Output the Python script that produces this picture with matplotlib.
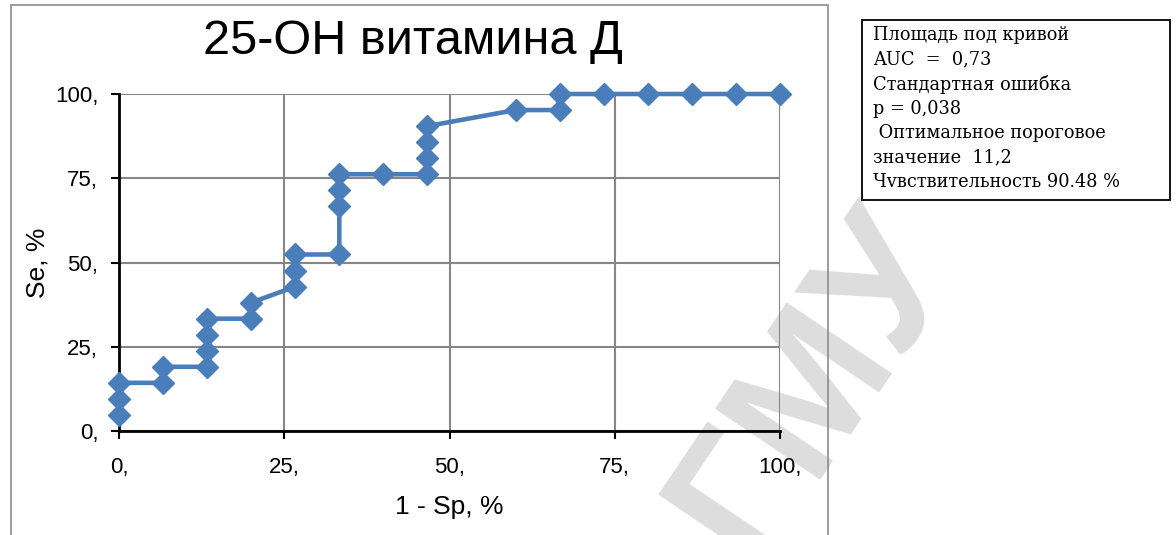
import matplotlib.pyplot as plt
from matplotlib.patches import Rectangle

# ROC curve points, %
fpr = [0, 0, 0, 6.67, 6.67, 13.33, 13.33, 13.33, 13.33, 20, 20, 26.67, 26.67, 26.67,
       33.33, 33.33, 33.33, 33.33, 40, 46.67, 46.67, 46.67, 46.67, 60, 66.67, 66.67,
       73.33, 80, 86.67, 93.33, 100]
tpr = [4.76, 9.52, 14.29, 14.29, 19.05, 19.05, 23.81, 28.57, 33.33, 33.33, 38.10, 42.86,
       47.62, 52.38, 52.38, 66.67, 71.43, 76.19, 76.19, 76.19, 80.95, 85.71, 90.48, 95.24,
       95.24, 100, 100, 100, 100, 100, 100]
ticks = [0, 25, 50, 75, 100]
tick_labels = ['0,', '25,', '50,', '75,', '100,']
info_lines = ['Площадь под кривой', 'AUC  =  0,73', 'Стандартная ошибка', 'p = 0,038',
              ' Оптимальное пороговое', 'значение  11,2', 'Чvвствительность 90.48 %']

plt.rcParams['font.family'] = ['Liberation Sans', 'DejaVu Sans']

W, H = 1176, 535
fig = plt.figure(figsize=(W / 100, H / 100), dpi=100)
ax = fig.add_axes([119 / W, 1 - 431 / H, (780 - 119) / W, (431 - 94) / H])
ax.patch.set_alpha(0)

# watermark behind everything
fig.text(815 / W, 1 - 385 / H, 'ГМУ', fontsize=132, color='#dddddd', rotation=56,
         ha='center', va='center', zorder=-5, fontweight='bold')

# chart area frame
fig.patches.append(Rectangle((10.5 / W, -0.05), (828 - 10.5) / W, 1.05 - 5 / H,
                             transform=fig.transFigure, fill=False, ec='#8c8c8c', lw=1.2))

ax.plot(fpr, tpr, '-', marker='D', color='#4a7ebb', linewidth=3.3, markersize=11,
        clip_on=False, zorder=5)

ax.set_xlim(0, 100)
ax.set_ylim(0, 100)
ax.set_xticks(ticks, tick_labels)
ax.set_yticks(ticks, tick_labels)
ax.tick_params(labelsize=16, length=6, width=1.5, direction='out')
ax.tick_params(axis='y', pad=9)
ax.tick_params(axis='x', pad=13)
ax.grid(color='#868686', linewidth=1.5)
ax.set_axisbelow(True)
for s in ['top', 'right']:
    ax.spines[s].set_visible(False)
for s in ['left', 'bottom']:
    ax.spines[s].set_linewidth(2)
ax.set_xlabel('1 - Sp, %', fontsize=19, labelpad=12)
ax.set_ylabel('Se, %', fontsize=19, labelpad=4)

fig.text(413 / W, 1 - 42 / H, '25-OH витамина Д', fontsize=35, ha='center', va='center')

# info box
fig.patches.append(Rectangle((862 / W, 1 - 200 / H), (1170 - 862) / W, 180 / H,
                             transform=fig.transFigure, fill=False, ec='black', lw=1.3))
for i, line in enumerate(info_lines):
    fig.text(873 / W, 1 - (35 + i * 24.5) / H, line, fontsize=12.8, va='center',
             family='DejaVu Serif')

fig.savefig('out.png', dpi=100)
